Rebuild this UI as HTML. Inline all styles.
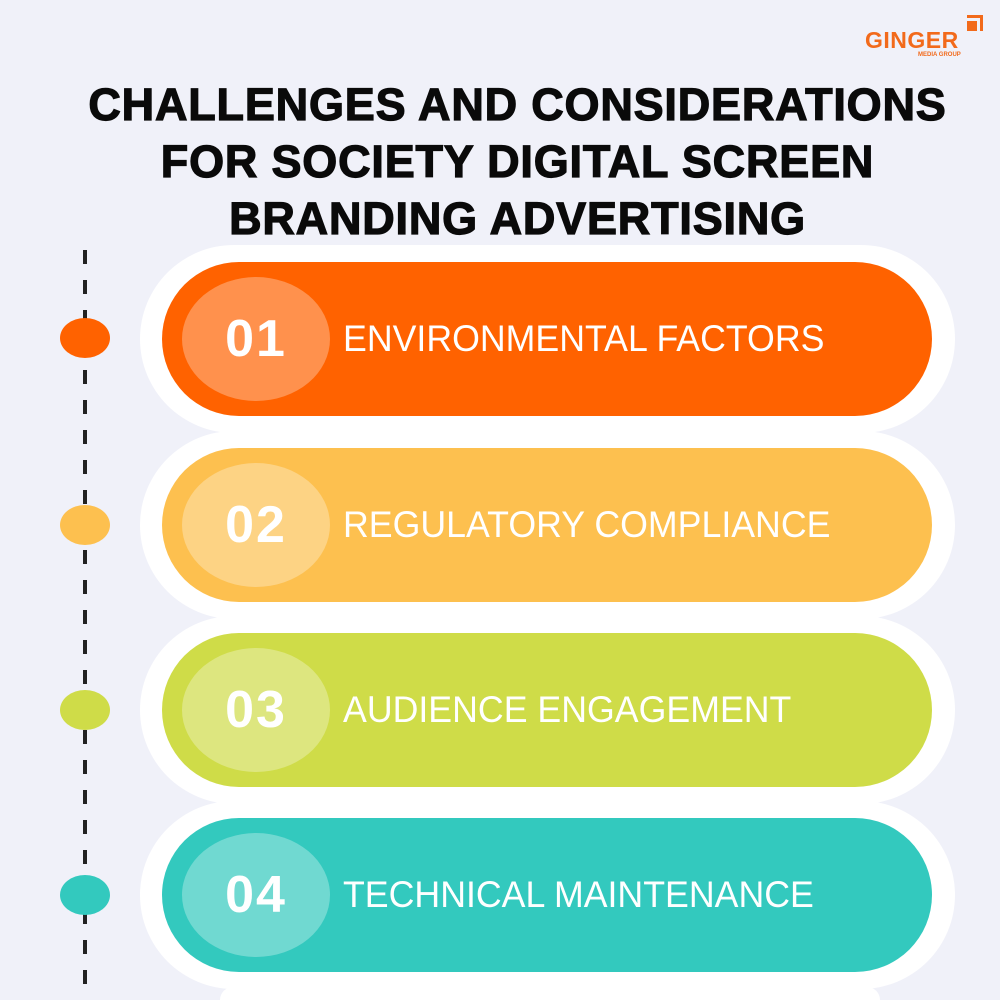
<!DOCTYPE html>
<html style="margin:0;width:1000px;height:1000px;overflow:hidden"><head><style>
body{margin:0;width:1000px;height:1000px;background:#f0f1f9;position:relative;overflow:hidden;font-family:"Liberation Sans",sans-serif}
.t{position:absolute;left:40px;width:955px;text-align:center;font-weight:900;font-size:45px;color:#0a0a0a;letter-spacing:0.8px;line-height:57px;top:76px;-webkit-text-stroke:1.2px #0a0a0a}
.dash{position:absolute;left:83px;top:250px;width:4px;height:750px;background:repeating-linear-gradient(#222 0 14px,transparent 14px 30px)}
.halo{position:absolute;left:140px;width:815px;height:188px;border-radius:94px;background:#fff}
.pill{position:absolute;left:162px;width:770px;height:154px;border-radius:77px}
.num{position:absolute;left:20px;top:15px;width:148px;height:124px;border-radius:50%;background:rgba(255,255,255,0.3);color:#fff;font-size:52px;font-weight:bold;text-align:center;line-height:124px;letter-spacing:2px}
.lab{position:absolute;left:181px;top:0;line-height:154px;color:#fff;font-size:37px;transform:scaleX(0.965);transform-origin:left;white-space:nowrap}
.dot{position:absolute;left:60px;width:50px;height:40px;border-radius:50%}
.logo{position:absolute;left:865px;top:27px;color:#f26a1b;font-weight:bold;font-size:23px;letter-spacing:0.5px}
.sub{position:absolute;left:918px;top:52px;color:#f26a1b;font-size:6px;font-weight:bold}
</style></head><body>
<div class="logo">GINGER</div><div class="sub">MEDIA GROUP</div>
<div style="position:absolute;left:967px;top:15px;width:16px;height:16px;border-top:3px solid #f26a1b;border-right:3px solid #f26a1b;box-sizing:border-box"></div>
<div style="position:absolute;left:967px;top:21px;width:10px;height:10px;background:#f26a1b"></div>
<div class="t">CHALLENGES AND CONSIDERATIONS<br>FOR SOCIETY DIGITAL SCREEN<br>BRANDING ADVERTISING</div>
<div class="dash"></div>

<div class="halo" style="top:245px"></div>
<div class="pill" style="top:262px;background:#ff6200"><div class="num">01</div><div class="lab">ENVIRONMENTAL FACTORS</div></div>
<div class="dot" style="top:318px;background:#ff6200"></div>

<div class="halo" style="top:431px"></div>
<div class="pill" style="top:448px;background:#fdc04f"><div class="num">02</div><div class="lab">REGULATORY COMPLIANCE</div></div>
<div class="dot" style="top:505px;background:#fdc04f"></div>

<div class="halo" style="top:616px"></div>
<div class="pill" style="top:633px;background:#cfdc48"><div class="num">03</div><div class="lab">AUDIENCE ENGAGEMENT</div></div>
<div class="dot" style="top:690px;background:#cfdc48"></div>

<div class="halo" style="top:801px"></div>
<div class="pill" style="top:818px;background:#33c9be"><div class="num">04</div><div class="lab">TECHNICAL MAINTENANCE</div></div>
<div class="dot" style="top:875px;background:#33c9be"></div>
<div style="position:absolute;left:220px;top:987px;width:660px;height:13px;background:#fff;border-radius:40px 40px 0 0"></div>
</body></html>
